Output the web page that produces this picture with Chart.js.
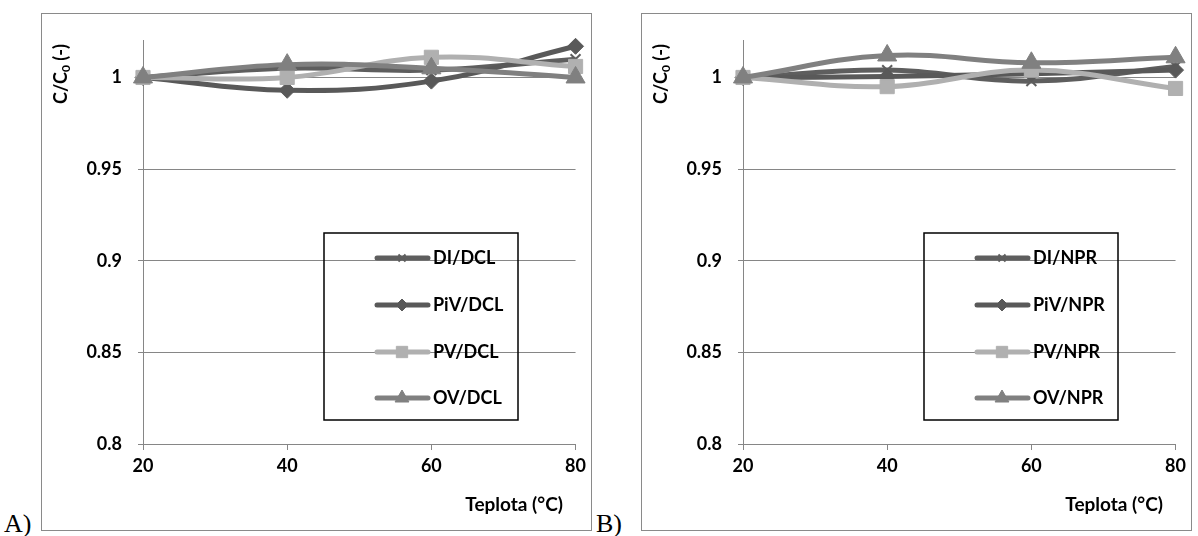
<!DOCTYPE html>
<html>
<head>
<meta charset="utf-8">
<script src="https://cdn.jsdelivr.net/npm/chart.js@4/dist/chart.umd.min.js"></script>
<style>
    body { margin: 0; width: 1198px; height: 536px; background: #fff; position: relative; overflow: hidden; }
    .panel { position: absolute; top: 13px; width: 549px; height: 516px; border: 1px solid #8a8a8a; }
    .panel canvas { display: block; }
    .tag { position: absolute; top: 509px; font-family: "Liberation Serif", serif; font-size: 26px; color: #000; }
</style>
</head>
<body>
<div class="panel" style="left:41px"><canvas id="chartA" width="549" height="516"></canvas></div>
<div class="panel" style="left:641px"><canvas id="chartB" width="549" height="516"></canvas></div>
<div class="tag" style="left:4px">A)</div>
<div class="tag" style="left:596px">B)</div>

<script>
// Temperatures and tick values
const temps = [20, 40, 60, 80];
const xTicks = [20, 40, 60, 80];
const yTicks = [0.8, 0.85, 0.9, 0.95, 1];
const yTickLabels = ['0.8', '0.85', '0.9', '0.95', '1'];

// Panel A - DCL
const seriesNamesA = ['DI/DCL', 'PiV/DCL', 'PV/DCL', 'OV/DCL'];
const diDcl = [1, 1.005, 1.004, 1.010];
const pivDcl = [1, 0.993, 0.998, 1.017];
const pvDcl = [1, 1.000, 1.011, 1.006];
const ovDcl = [1, 1.007, 1.005, 1.000];

// Panel B - NPR
const seriesNamesB = ['DI/NPR', 'PiV/NPR', 'PV/NPR', 'OV/NPR'];
const diNpr = [1, 1.004, 0.998, 1.006];
const pivNpr = [1, 1.0005, 1.002, 1.004];
const pvNpr = [1, 0.995, 1.004, 0.994];
const ovNpr = [1, 1.012, 1.008, 1.011];

const FONT = 'Lato, "Open Sans", sans-serif';
const AXIS_GRAY = '#868686';

// marker / line look of each series, in legend order
const styles = [
    { color: '#5e5e5e', pointStyle: 'crossRot', radius: 7, legendRadius: 5 },
    { color: '#595959', pointStyle: 'rectRot', radius: 8, legendRadius: 6 },
    { color: '#b0b0b0', pointStyle: 'rect', radius: 10, legendRadius: 8 },
    { color: '#808080', pointStyle: 'triangle', radius: 11, legendRadius: 8 }
];

function makeDatasets(names, seriesList) {
    return seriesList.map((values, i) => {
        const s = styles[i];
        return {
            label: names[i],
            data: values.map((v, j) => ({ x: temps[j], y: v })),
            borderColor: s.color,
            backgroundColor: s.color,
            borderWidth: 5,
            tension: 0.4,
            pointStyle: s.pointStyle,
            pointRadius: s.radius,
            pointBorderWidth: s.pointStyle === 'crossRot' ? 2 : 1,
            pointBorderColor: s.color,
            pointBackgroundColor: s.color,
            clip: false,
            order: seriesList.length - i,   // last series on top
            legendRadius: s.legendRadius
        };
    });
}

// legend box, axis titles
const decorPlugin = {
    id: 'decor',
    afterDraw(chart) {
        const ctx = chart.ctx;
        ctx.save();

        // y axis title: C/C0 (-) with subscript
        ctx.translate(19, 60);
        ctx.rotate(-Math.PI / 2);
        ctx.fillStyle = '#000';
        ctx.textBaseline = 'middle';
        ctx.textAlign = 'left';
        const big = 'bold 18px ' + FONT, small = 'bold 12px ' + FONT;
        ctx.font = big;
        const w1 = ctx.measureText('C/C').width;
        const w3 = ctx.measureText(' (-)').width;
        ctx.font = small;
        const w2 = ctx.measureText('0').width;
        let x = -(w1 + w2 + w3) / 2;
        ctx.font = big;
        ctx.fillText('C/C', x, 0);
        x += w1;
        ctx.font = small;
        ctx.fillText('0', x, 5);
        x += w2;
        ctx.font = big;
        ctx.fillText(' (-)', x, 0);
        ctx.restore();

        // x axis title
        ctx.save();
        ctx.font = 'bold 19px ' + FONT;
        ctx.fillStyle = '#000';
        ctx.textAlign = 'right';
        ctx.textBaseline = 'middle';
        ctx.fillText('Teplota (°C)', 521, 491);

        // legend
        ctx.lineWidth = 1.5;
        ctx.strokeStyle = '#000';
        ctx.strokeRect(282, 219, 194, 187);
        const rows = [244, 291, 338, 384];
        chart.data.datasets.forEach((ds, i) => {
            const y = rows[i];
            ctx.strokeStyle = ds.borderColor;
            ctx.lineWidth = 5;
            ctx.lineCap = 'round';
            ctx.beginPath();
            ctx.moveTo(335, y);
            ctx.lineTo(386, y);
            ctx.stroke();
            ctx.lineCap = 'butt';
            ctx.fillStyle = ds.pointBackgroundColor;
            ctx.strokeStyle = ds.pointBorderColor;
            ctx.lineWidth = ds.pointBorderWidth;
            Chart.helpers.drawPoint(ctx, {
                pointStyle: ds.pointStyle,
                radius: ds.legendRadius,
                rotation: 0,
                borderWidth: ds.pointBorderWidth
            }, 360, y);
            ctx.fillStyle = '#000';
            ctx.font = 'bold 18px ' + FONT;
            ctx.textAlign = 'left';
            ctx.fillText(ds.label, 391, y);
        });
        ctx.restore();
    }
};

function makeChart(id, names, seriesList) {
    return new Chart(document.getElementById(id), {
        type: 'line',
        data: { datasets: makeDatasets(names, seriesList) },
        options: {
            responsive: false,
            animation: false,
            layout: { padding: { top: 26, right: 14, left: 0, bottom: 0 } },
            plugins: { legend: { display: false }, tooltip: { enabled: false } },
            scales: {
                x: {
                    type: 'linear',
                    min: 20,
                    max: 80,
                    afterBuildTicks: axis => { axis.ticks = xTicks.map(v => ({ value: v })); },
                    afterFit: scale => { scale.height = 86; },
                    grid: { drawOnChartArea: false, drawTicks: true, tickLength: 6, color: AXIS_GRAY },
                    border: { display: true, color: AXIS_GRAY, width: 1 },
                    ticks: {
                        padding: 5,
                        color: '#000',
                        font: { family: FONT, size: 18, weight: 'bold' },
                        maxRotation: 0,
                        callback: v => String(v)
                    }
                },
                y: {
                    min: 0.8,
                    max: 1.02,
                    afterBuildTicks: axis => { axis.ticks = yTicks.map(v => ({ value: v })); },
                    afterFit: scale => { scale.width = 101; },
                    grid: { color: AXIS_GRAY, tickLength: 5 },
                    border: { display: true, color: AXIS_GRAY, width: 1 },
                    ticks: {
                        padding: 16,
                        color: '#000',
                        font: { family: FONT, size: 18, weight: 'bold' },
                        callback: v => {
                            const k = yTicks.findIndex(t => Math.abs(t - v) < 1e-9);
                            return k >= 0 ? yTickLabels[k] : '';
                        }
                    }
                }
            }
        },
        plugins: [decorPlugin]
    });
}

document.addEventListener('DOMContentLoaded', () => {
    makeChart('chartA', seriesNamesA, [diDcl, pivDcl, pvDcl, ovDcl]);
    makeChart('chartB', seriesNamesB, [diNpr, pivNpr, pvNpr, ovNpr]);
});
</script>
</body>
</html>
